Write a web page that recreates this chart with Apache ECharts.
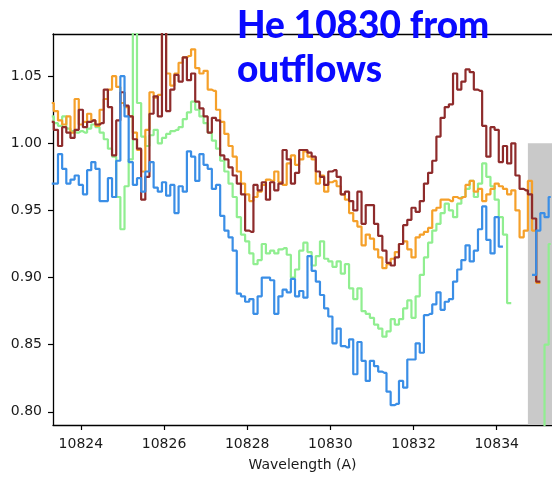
<!DOCTYPE html>
<html>
<head>
<meta charset="utf-8">
<script src="https://cdn.jsdelivr.net/npm/echarts@6/dist/echarts.min.js"></script>
<style>
  html, body { margin: 0; padding: 0; background: #fff; }
  #chart { width: 552px; height: 477px; }
</style>
</head>
<body>
<div id="chart"></div>
<script>
// Wavelength grid (Angstrom), one bin per sample
const wavelength = [
  10823.3, 10823.4, 10823.5, 10823.6, 10823.7, 10823.8, 10823.9, 10824.0, 10824.1, 10824.2,
  10824.3, 10824.4, 10824.5, 10824.6, 10824.7, 10824.8, 10824.9, 10825.0, 10825.1, 10825.2,
  10825.3, 10825.4, 10825.5, 10825.6, 10825.7, 10825.8, 10825.9, 10826.0, 10826.1, 10826.2,
  10826.3, 10826.4, 10826.5, 10826.6, 10826.7, 10826.8, 10826.9, 10827.0, 10827.1, 10827.2,
  10827.3, 10827.4, 10827.5, 10827.6, 10827.7, 10827.8, 10827.9, 10828.0, 10828.1, 10828.2,
  10828.3, 10828.4, 10828.5, 10828.6, 10828.7, 10828.8, 10828.9, 10829.0, 10829.1, 10829.2,
  10829.3, 10829.4, 10829.5, 10829.6, 10829.7, 10829.8, 10829.9, 10830.0, 10830.1, 10830.2,
  10830.3, 10830.4, 10830.5, 10830.6, 10830.7, 10830.8, 10830.9, 10831.0, 10831.1, 10831.2,
  10831.3, 10831.4, 10831.5, 10831.6, 10831.7, 10831.8, 10831.9, 10832.0, 10832.1, 10832.2,
  10832.3, 10832.4, 10832.5, 10832.6, 10832.7, 10832.8, 10832.9, 10833.0, 10833.1, 10833.2,
  10833.3, 10833.4, 10833.5, 10833.6, 10833.7, 10833.8, 10833.9, 10834.0, 10834.1, 10834.2,
  10834.3, 10834.4, 10834.5, 10834.6, 10834.7, 10834.8, 10834.9, 10835.0, 10835.1, 10835.2,
  10835.3
];

// Normalised flux per spectrum (null = masked bins)
const fluxGreen = [
  1.020, 1.015, 1.013, 1.020, 1.011, 1.009, 1.008, 1.009, 1.008, 1.011,
  1.014, 1.012, 1.008, 1.003, 0.996, 0.990, 0.960, 0.936, 0.968, 0.988,
  1.100, 1.030, 1.005, 0.998, 1.006, 1.010, 1.000, 1.004, 1.007, 1.009,
  1.010, 1.012, 1.018, 1.023, 1.031, 1.025, 1.020, 1.015, 1.008, 1.002,
  0.996, 0.987, 0.979, 0.970, 0.960, 0.945, 0.932, 0.927, 0.918, 0.910,
  0.913, 0.925, 0.918, 0.920, 0.918, 0.921, 0.922, 0.917, 0.900, 0.906,
  0.920, 0.926, 0.919, 0.909, 0.916, 0.927, 0.914, 0.912, 0.908, 0.912,
  0.903, 0.910, 0.892, 0.884, 0.892, 0.875, 0.873, 0.870, 0.865, 0.862,
  0.856, 0.860, 0.869, 0.865, 0.869, 0.877, 0.883, 0.870, 0.886, 0.902,
  0.915, 0.926, 0.935, 0.940, 0.948, 0.955, 0.950, 0.945, 0.955, 0.960,
  0.966, 0.972, 0.960, 0.970, 0.985, 0.975, 0.968, 0.958, 0.945, 0.932,
  0.881, null, null, null, null, null, null, null, 0.700, 0.850,
  0.925
];
const fluxOrange = [
  1.030, 1.024, 1.017, 1.014, 1.020, 1.008, 1.033, 1.014, 1.016, 1.022,
  1.017, 1.013, 1.025, 1.033, 1.040, 1.050, 1.042, 1.030, 1.027, 1.020,
  1.008, 0.995, 0.979, 1.010, 1.038, 1.034, 1.036, 1.100, 1.052, 1.043,
  1.052, 1.060, 1.064, 1.065, 1.070, 1.056, 1.052, 1.054, 1.040, 1.039,
  1.025, 1.016, 1.007, 0.998, 0.990, 0.979, 0.970, 0.962, 0.957, 0.960,
  0.964, 0.969, 0.973, 0.972, 0.979, 0.971, 0.969, 0.985, 0.991, 0.984,
  0.988, 0.994, 0.990, 0.988, 0.970, 0.976, 0.964, 0.971, 0.972, 0.968,
  0.962, 0.958, 0.948, 0.942, 0.938, 0.924, 0.932, 0.929, 0.921, 0.915,
  0.907, 0.910, 0.914, 0.919, 0.925, 0.927, 0.921, 0.915, 0.930, 0.932,
  0.934, 0.937, 0.950, 0.952, 0.958, 0.958, 0.957, 0.960, 0.959, 0.960,
  0.969, 0.972, 0.964, 0.966, 0.957, 0.962, 0.966, 0.970, 0.968, 0.966,
  0.962, 0.965, 0.950, 0.930, 0.935, 0.972, 0.935, 0.896, null, null,
  null
];
const fluxBrown = [
  1.016, 1.010, 0.998, 1.012, 1.008, 1.004, 1.010, 1.025, 1.012, 1.016,
  1.017, 1.014, 1.015, 1.040, 1.027, 0.991, 1.017, 1.038, 1.028, 1.020,
  1.003, 0.996, 0.958, 0.975, 1.022, 1.035, 1.020, 1.100, 1.024, 1.040,
  1.051, 1.046, 1.064, 1.047, 1.052, 1.031, 1.026, 1.020, 1.008, 1.019,
  1.017, 0.991, 0.988, 0.982, 0.976, 0.970, 0.962, 0.935, 0.934, 0.969,
  0.965, 0.971, 0.958, 0.971, 0.965, 0.970, 0.995, 0.988, 0.970, 0.978,
  0.995, 0.995, 0.993, 0.990, 0.979, 0.975, 0.969, 0.979, 0.980, 0.975,
  0.962, 0.964, 0.957, 0.950, 0.964, 0.940, 0.954, 0.954, 0.940, 0.931,
  0.920, 0.911, 0.909, 0.915, 0.925, 0.939, 0.943, 0.952, 0.949, 0.957,
  0.970, 0.978, 0.987, 1.005, 1.019, 1.027, 1.029, 1.052, 1.040, 1.046,
  1.055, 1.053, 1.040, 1.039, 1.013, 0.990, 1.012, 1.010, 0.986, 0.998,
  0.985, 1.000, 0.976, 0.966, 0.965, 0.962, 0.944, 0.897, null, null,
  null
];
const fluxBlue = [
  0.970, 0.970, 0.992, 0.981, 0.970, 0.973, 0.976, 0.969, 0.962, 0.980,
  0.986, 0.981, 0.957, 0.957, 0.974, 0.960, 0.987, 1.050, 1.020, 0.986,
  0.969, 0.974, 0.964, 0.979, 0.986, 0.967, 0.964, 0.971, 0.961, 0.969,
  0.948, 0.968, 0.964, 0.994, 0.990, 0.972, 0.992, 0.984, 0.981, 0.966,
  0.969, 0.946, 0.935, 0.930, 0.920, 0.888, 0.886, 0.882, 0.884, 0.873,
  0.886, 0.900, 0.900, 0.898, 0.873, 0.886, 0.891, 0.889, 0.899, 0.886,
  0.890, 0.885, 0.916, 0.905, 0.897, 0.887, 0.877, 0.871, 0.851, 0.862,
  0.849, 0.848, 0.854, 0.828, 0.852, 0.838, 0.823, 0.838, 0.834, 0.830,
  0.829, 0.815, 0.805, 0.806, 0.823, 0.818, 0.839, 0.839, 0.851, 0.844,
  0.872, 0.873, 0.880, 0.889, 0.876, 0.882, 0.884, 0.897, 0.906, 0.913,
  0.924, 0.912, 0.920, 0.936, 0.953, 0.928, 0.918, 0.945, 0.923, null,
  null, null, null, null, null, null, 0.902, 0.935, 0.948, 0.945,
  0.960
];

// Axis ranges and tick positions
const xRange = [10823.33, 10835.33];
const yRange = [0.7902, 1.0814];
const xTicks = [10824, 10826, 10828, 10830, 10832, 10834];
const yTicks = [0.80, 0.85, 0.90, 0.95, 1.00, 1.05];
// Shaded (excluded) wavelength region
const maskedRegion = { x0: 10834.75, x1: 10835.33, y0: 0.7902, y1: 1.00 };

const titleLines = ['He 10830 from', 'outflows'];

function pairs(flux) {
  return wavelength.map((w, i) => [w, flux[i]]);
}

function spectrum(name, flux, color, z) {
  return {
    name: name,
    type: 'line',
    step: 'middle',
    data: pairs(flux),
    showSymbol: false,
    connectNulls: false,
    clip: true,
    z: z,
    lineStyle: { color: color, width: 2.2 },
    emphasis: { disabled: true }
  };
}

const tickFont = { fontFamily: 'DejaVu Sans', fontSize: 14, color: '#1a1a1a' };

const chart = echarts.init(document.getElementById('chart'), null, { renderer: 'canvas' });
chart.setOption({
  animation: false,
  backgroundColor: '#ffffff',
  grid: { left: 53, right: 0, top: 34, bottom: 47, containLabel: false },
  xAxis: [{
    type: 'value',
    min: xRange[0], max: xRange[1],
    name: 'Wavelength (A)',
    nameLocation: 'middle',
    nameGap: 33,
    nameTextStyle: { fontFamily: 'DejaVu Sans', fontSize: 14, color: '#1a1a1a' },
    axisLine: { show: true, onZero: false, lineStyle: { color: '#000', width: 1.3 } },
    axisTick: { show: true, length: 5, customValues: xTicks, lineStyle: { color: '#000', width: 1.2 } },
    axisLabel: Object.assign({ margin: 12, customValues: xTicks, formatter: v => String(v) }, tickFont),
    splitLine: { show: false }
  }, {
    type: 'value',
    position: 'top',
    min: xRange[0], max: xRange[1],
    axisLine: { show: true, onZero: false, lineStyle: { color: '#000', width: 1.3 } },
    axisTick: { show: false },
    axisLabel: { show: false },
    splitLine: { show: false }
  }],
  yAxis: {
    type: 'value',
    min: yRange[0], max: yRange[1],
    axisLine: { show: true, onZero: false, lineStyle: { color: '#000', width: 1.3 } },
    axisTick: { show: true, length: 5, customValues: yTicks, lineStyle: { color: '#000', width: 1.2 } },
    axisLabel: Object.assign({ margin: 11, customValues: yTicks, formatter: v => v.toFixed(2) }, tickFont),
    splitLine: { show: false }
  },
  series: [
    {
      name: 'masked',
      type: 'line',
      data: [[maskedRegion.x0, null]],
      showSymbol: false,
      z: 1,
      markArea: {
        silent: true,
        itemStyle: { color: '#c9c9c9', opacity: 1 },
        data: [[
          { coord: [maskedRegion.x0, maskedRegion.y0] },
          { coord: [maskedRegion.x1, maskedRegion.y1] }
        ]]
      }
    },
    spectrum('green', fluxGreen, '#90ee90', 3),
    spectrum('orange', fluxOrange, '#f5a02a', 4),
    spectrum('brown', fluxBrown, '#8e2b2b', 5),
    spectrum('blue', fluxBlue, '#3a8ee6', 6)
  ],
  graphic: [
    {
      type: 'text', left: 237, top: 8, z: 100,
      style: { text: titleLines[0], font: '900 37px Lato', fill: '#0a0aff' }
    },
    {
      type: 'text', left: 237, top: 52, z: 100,
      style: { text: titleLines[1], font: '900 37px Lato', fill: '#0a0aff' }
    }
  ]
});
</script>
</body>
</html>
